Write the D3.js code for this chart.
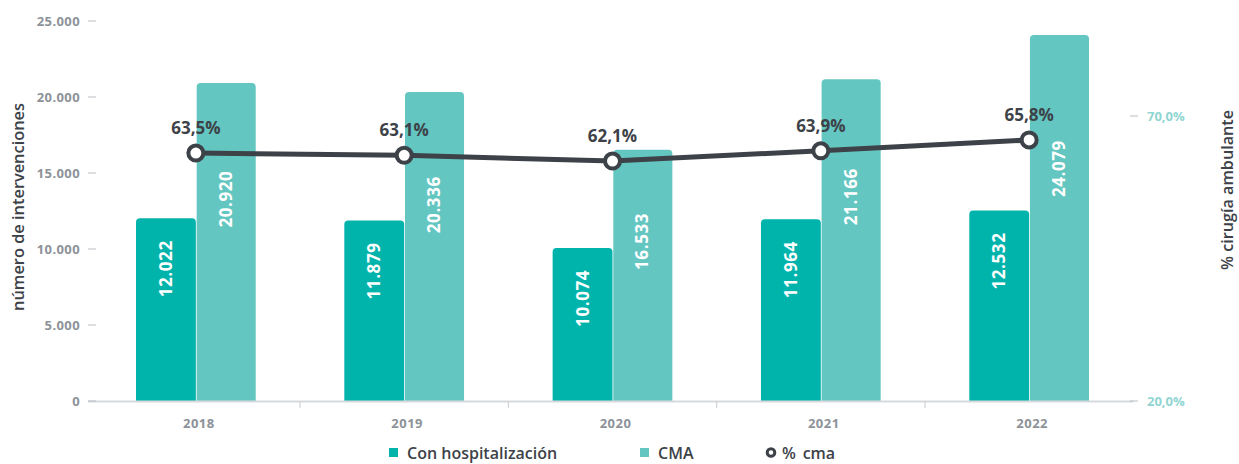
<!DOCTYPE html>
<html>
<head>
<meta charset="utf-8">
<script src="https://cdn.jsdelivr.net/npm/d3@7"></script>
<style>
  body { margin: 0; background: #fff; }
  svg { font-family: "Open Sans", "Noto Sans", sans-serif; }
</style>
</head>
<body>
<svg id="chart" width="1239" height="464"></svg>
<script>
// datos
const years = ["2018", "2019", "2020", "2021", "2022"];
const hospValues = [12022, 11879, 10074, 11964, 12532];
const cmaValues = [20920, 20336, 16533, 21166, 24079];
const pctValues = [63.5, 63.1, 62.1, 63.9, 65.8];
const leftTicks = [0, 5000, 10000, 15000, 20000, 25000];
const rightTicks = [20, 70];
const seriesNames = ["Con hospitalización", "CMA", "% cma"];

const colHosp = "#00b3ab";
const colCma = "#64c6c1";
const colLine = "#3d4248";
const colGrey = "#8d9299";

const es = d3.formatLocale({ decimal: ",", thousands: ".", grouping: [3], currency: ["", "€"] });
const fmtN = es.format(",d");
const fmtP = v => es.format(".1f")(v) + "%";

const svg = d3.select("#chart");
const plotTop = 21, plotBottom = 401, plotLeft = 91.7, plotRight = 1133.3;

const x0 = d3.scaleBand().domain(years).range([plotLeft, plotRight]).padding(0);
const x1 = d3.scaleBand().domain(["hosp", "cma"]).range([0, x0.bandwidth()]).paddingOuter(0.74);
const y = d3.scaleLinear().domain([0, 25000]).range([plotBottom, plotTop]);
const yR = d3.scaleLinear().domain([20, 20 + (plotBottom - plotTop) / 5.7]).range([plotBottom, plotTop]);

// barras con esquinas superiores redondeadas
function topRounded(x, yTop, w, h, r) {
  return `M${x},${yTop + h}V${yTop + r}Q${x},${yTop} ${x + r},${yTop}H${x + w - r}Q${x + w},${yTop} ${x + w},${yTop + r}V${yTop + h}Z`;
}

const rows = years.map((yr, i) => ({ yr, hosp: hospValues[i], cma: cmaValues[i], pct: pctValues[i] }));

const groups = svg.append("g").selectAll("g")
  .data(rows).enter().append("g")
  .attr("transform", d => `translate(${x0(d.yr)},0)`);

groups.append("path")
  .attr("fill", colHosp)
  .attr("d", d => topRounded(x1("hosp"), y(d.hosp), x1.bandwidth(), plotBottom - y(d.hosp), 4));
groups.append("path")
  .attr("fill", colCma)
  .attr("d", d => topRounded(x1("cma") + 0.8, y(d.cma), x1.bandwidth() - 0.8, plotBottom - y(d.cma), 4));

// etiquetas de barras
groups.append("text")
  .attr("transform", d => `translate(${x1("hosp") + x1.bandwidth() / 2 + 6},${y(d.hosp) + 22}) rotate(-90)`)
  .attr("text-anchor", "end")
  .attr("fill", "#fff").attr("font-weight", 700).attr("font-size", 17)
  .attr("letter-spacing", 0.6)
  .text(d => fmtN(d.hosp));
groups.append("text")
  .attr("transform", d => `translate(${x1("cma") + x1.bandwidth() / 2 + 6},${y(d.cma * 0.635)}) rotate(-90)`)
  .attr("text-anchor", "middle")
  .attr("fill", "#fff").attr("font-weight", 700).attr("font-size", 17)
  .attr("letter-spacing", 0.6)
  .text(d => fmtN(d.cma));

// eje x
svg.append("line").attr("x1", 88).attr("x2", plotRight).attr("y1", plotBottom + 0.5).attr("y2", plotBottom + 0.5)
  .attr("stroke", "#d6d9dc").attr("stroke-width", 2);
svg.append("g").selectAll("line")
  .data(years.slice(1)).enter().append("line")
  .attr("x1", d => x0(d)).attr("x2", d => x0(d))
  .attr("y1", plotBottom).attr("y2", plotBottom + 7)
  .attr("stroke", "#c9ccd0").attr("stroke-width", 1);
svg.append("g").selectAll("text")
  .data(years).enter().append("text")
  .attr("x", d => x0(d) + x0.bandwidth() / 2 + 3)
  .attr("y", 428)
  .attr("text-anchor", "middle")
  .attr("fill", colGrey).attr("font-weight", 700).attr("font-size", 13)
  .attr("letter-spacing", 0.5)
  .text(d => d);

// eje izquierdo
const gl = svg.append("g");
gl.selectAll("line").data(leftTicks).enter().append("line")
  .attr("x1", 88).attr("x2", 96)
  .attr("y1", d => y(d)).attr("y2", d => y(d))
  .attr("stroke", "#b9bdc2").attr("stroke-width", 1);
gl.selectAll("text").data(leftTicks).enter().append("text")
  .attr("x", 80).attr("y", d => y(d) + 4.5)
  .attr("text-anchor", "end")
  .attr("fill", colGrey).attr("font-weight", 700).attr("font-size", 13)
  .attr("letter-spacing", 0.4)
  .text(d => fmtN(d));
svg.append("text")
  .attr("transform", `translate(24,207) rotate(-90)`)
  .attr("text-anchor", "middle")
  .attr("fill", colLine).attr("font-weight", 600).attr("font-size", 16)
  .attr("textLength", 208).attr("lengthAdjust", "spacingAndGlyphs")
  .text("número de intervenciones");

// eje derecho
const gr = svg.append("g");
gr.selectAll("line").data(rightTicks).enter().append("line")
  .attr("x1", 1130).attr("x2", 1138)
  .attr("y1", d => yR(d)).attr("y2", d => yR(d))
  .attr("stroke", "#b9bdc2").attr("stroke-width", 1);
gr.selectAll("text").data(rightTicks).enter().append("text")
  .attr("x", 1147).attr("y", d => yR(d) + 4.5)
  .attr("fill", "#8fd5d1").attr("font-weight", 700).attr("font-size", 13)
  .text(d => fmtP(d));
svg.append("text")
  .attr("transform", `translate(1233,190) rotate(-90)`)
  .attr("text-anchor", "middle")
  .attr("fill", colLine).attr("font-weight", 600).attr("font-size", 16)
  .attr("textLength", 160).attr("lengthAdjust", "spacingAndGlyphs")
  .text("% cirugía ambulante");

// línea de % cma
const cx = d => x0(d.yr) + x0.bandwidth() / 2;
svg.append("path")
  .datum(rows)
  .attr("fill", "none").attr("stroke", colLine).attr("stroke-width", 5)
  .attr("d", d3.line().x(cx).y(d => yR(d.pct)));
svg.append("g").selectAll("circle")
  .data(rows).enter().append("circle")
  .attr("cx", cx).attr("cy", d => yR(d.pct)).attr("r", 7.5)
  .attr("fill", "#fff").attr("stroke", colLine).attr("stroke-width", 4);
svg.append("g").selectAll("text")
  .data(rows).enter().append("text")
  .attr("x", cx).attr("y", d => yR(d.pct) - 19)
  .attr("text-anchor", "middle")
  .attr("fill", colLine).attr("font-weight", 700).attr("font-size", 17)
  .text(d => fmtP(d.pct));

// leyenda
const lg = svg.append("g");
const legX = [389, 640, 769];
lg.append("rect").attr("x", legX[0]).attr("y", 448).attr("width", 9).attr("height", 9).attr("fill", colHosp);
lg.append("rect").attr("x", legX[1]).attr("y", 448).attr("width", 9).attr("height", 9).attr("fill", colCma);
lg.append("circle").attr("cx", legX[2] + 2).attr("cy", 452.5).attr("r", 3.8)
  .attr("fill", "#fff").attr("stroke", colLine).attr("stroke-width", 3);
lg.selectAll("text").data(seriesNames).enter().append("text")
  .attr("x", (d, i) => legX[i] + (i === 2 ? 13 : 18))
  .attr("y", 459)
  .attr("fill", colLine).attr("font-weight", 600).attr("font-size", 16)
  .text(d => d.replace("% ", "%\u2009 "));
</script>
</body>
</html>
